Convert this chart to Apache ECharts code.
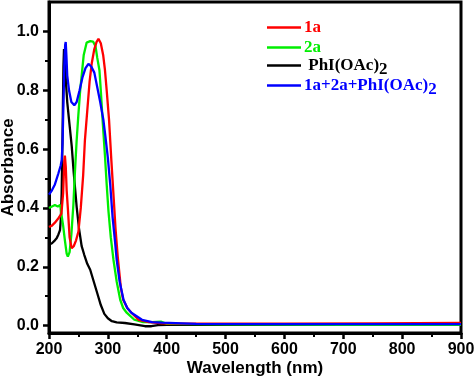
<!DOCTYPE html>
<html><head><meta charset="utf-8">
<script src="https://cdn.jsdelivr.net/npm/echarts@6/dist/echarts.min.js"></script>
<style>html,body{margin:0;padding:0;background:#fff}#c{width:474px;height:376px}</style>
</head><body><div id="c"></div>
<script>
// ---- data ----
var xTicks = [200, 300, 400, 500, 600, 700, 800, 900];
var yTicks = [0.0, 0.2, 0.4, 0.6, 0.8, 1.0];
var yMinorTicks = [0.1, 0.3, 0.5, 0.7, 0.9];
var seriesNames = ['1a', '2a', 'PhI(OAc)2', '1a+2a+PhI(OAc)2'];

var red_x = [200,205,210,216,221,224,226,227,228.5,230,232,235,238.5,242,246,250,254,258,261,265,269,272.5,277,281,284,288,292,295,298,302,306,310,313,317,322,326,333,340,352,370,392,450,600,750,900];
var red_y = [0.335,0.34,0.35,0.365,0.38,0.45,0.56,0.578,0.54,0.46,0.40,0.30,0.263,0.27,0.29,0.32,0.40,0.51,0.63,0.73,0.83,0.89,0.94,0.965,0.975,0.96,0.92,0.87,0.80,0.70,0.56,0.43,0.33,0.23,0.13,0.088,0.06,0.044,0.02,0.012,0.008,0.007,0.007,0.008,0.009];

var green_x = [200,205,210,215,219,221,224,227,230,232,235,238,241.4,244,247,250,253,256,259,264,270,275,279,282,285.7,288,291,295,298,301,305,309.5,315,321,326,332,345,360,375,390,400,500,700,900];
var green_y = [0.40,0.405,0.41,0.405,0.41,0.38,0.34,0.29,0.245,0.235,0.25,0.31,0.41,0.52,0.63,0.72,0.80,0.86,0.92,0.962,0.967,0.965,0.95,0.91,0.868,0.80,0.70,0.58,0.48,0.39,0.30,0.224,0.15,0.088,0.06,0.044,0.02,0.012,0.012,0.014,0.006,0.004,0.003,0.003];

var black_x = [200,205,210,213,216,218.7,220,221.5,223,224.5,225.5,227,229,231,234,238.6,242,247,251,255.5,260,265,270,276,282,288,294,300,306.8,315,329,345,363,374,385,400,600,900];
var black_y = [0.275,0.28,0.29,0.297,0.31,0.325,0.36,0.45,0.65,0.88,0.94,0.90,0.82,0.76,0.70,0.61,0.52,0.404,0.33,0.27,0.24,0.21,0.19,0.15,0.11,0.07,0.04,0.025,0.015,0.011,0.009,0.004,-0.002,-0.002,0.002,0.003,0.003,0.003];

var blue_x = [200,205,210,216,220,221.6,223,224.5,226,227.5,228.4,229.5,231,234,238,243,247,252,257,262,267,272,277,282,287,292.5,296,300,304,308,312,315,320,326.6,333,340,358,375,392,450,600,750,900];
var blue_y = [0.445,0.46,0.48,0.518,0.545,0.563,0.62,0.75,0.88,0.955,0.964,0.92,0.85,0.80,0.76,0.749,0.76,0.80,0.845,0.875,0.89,0.88,0.86,0.81,0.76,0.698,0.64,0.57,0.48,0.37,0.29,0.224,0.15,0.088,0.06,0.044,0.02,0.012,0.01,0.006,0.005,0.005,0.005];

function zip(xs, ys){ return xs.map(function(x,i){ return [x, ys[i]]; }); }

var colors = {'1a':'#ff0000','2a':'#00ee00','PhI(OAc)2':'#000000','1a+2a+PhI(OAc)2':'#0000ff'};

var chart = echarts.init(document.getElementById('c'), null, {renderer:'canvas'});

function lineSeries(name, xs, ys, z){
  return {type:'line', name:name, data:zip(xs,ys), showSymbol:false, symbol:'none',
    lineStyle:{color:colors[name], width:2.3}, itemStyle:{color:colors[name]}, z:z, animation:false};
}

var serifFont = '"Liberation Serif","Times New Roman",serif';
function mkRich(col){
  return {
    m:{fontFamily:serifFont, fontWeight:'bold', fontSize:17, color:col},
    s:{fontFamily:serifFont, fontWeight:'bold', fontSize:17, color:col, padding:[9,0,0,0]}
  };
}
function legendFor(name, top, label){
  return {
    data:[{name:name}], top:top, left:262, orient:'vertical',
    icon:'rect', itemWidth:34, itemHeight:2.5, itemGap:0,
    selectedMode:false,
    formatter:function(){ return label; },
    textStyle:{rich:mkRich(colors[name]), padding:[0,0,0,-2]}
  };
}

var option = {
  backgroundColor:'#fff',
  animation:false,
  grid:{left:49, right:13, top:2, bottom:43, show:true, borderColor:'#000', borderWidth:3, backgroundColor:'transparent', containLabel:false, outerBoundsMode:'none'},
  legend:[
    legendFor('1a', 14, '{m|1a}'),
    legendFor('2a', 34, '{m|2a}'),
    legendFor('PhI(OAc)2', 52, '{m| PhI(OAc)}{s|2}'),
    legendFor('1a+2a+PhI(OAc)2', 72, '{m|1a+2a+PhI(OAc)}{s|2}')
  ],
  xAxis:[{
    type:'value', min:200, max:900, interval:100,
    name:'Wavelength (nm)', nameLocation:'middle', nameGap:27, nameMoveOverlap:false,
    nameTextStyle:{fontFamily:'"Liberation Sans",Arial,sans-serif', fontWeight:'bold', fontSize:17, color:'#000'},
    axisLine:{show:true, onZero:false, lineStyle:{color:'#000', width:3}},
    axisTick:{show:true, inside:false, length:6, lineStyle:{color:'#000', width:2.5}},
    minorTick:{show:true, splitNumber:2, length:4, lineStyle:{color:'#000', width:2}},
    axisLabel:{fontFamily:'"Liberation Sans",Arial,sans-serif', fontWeight:'bold', fontSize:16, color:'#000', margin:9},
    splitLine:{show:false}, minorSplitLine:{show:false}
  }],
  yAxis:[{
    type:'value', min:-0.025, max:1.1,
    name:'Absorbance', nameLocation:'middle', nameGap:32, nameRotate:90, nameMoveOverlap:false,
    nameTextStyle:{fontFamily:'"Liberation Sans",Arial,sans-serif', fontWeight:'bold', fontSize:17, color:'#000'},
    axisLine:{show:true, onZero:false, lineStyle:{color:'#000', width:3}},
    axisTick:{show:true, inside:false, length:6, customValues:yTicks, lineStyle:{color:'#000', width:2.5}},
    axisLabel:{customValues:yTicks, formatter:function(v){return v.toFixed(1);}, fontFamily:'"Liberation Sans",Arial,sans-serif', fontWeight:'bold', fontSize:16, color:'#000', margin:10},
    splitLine:{show:false}
  },{
    type:'value', min:-0.025, max:1.1, position:'left',
    axisLine:{show:false},
    axisTick:{show:true, inside:false, length:4, customValues:yMinorTicks, lineStyle:{color:'#000', width:2}},
    axisLabel:{show:false}, splitLine:{show:false}
  }],
  series:[
    lineSeries('PhI(OAc)2', black_x, black_y, 2),
    lineSeries('2a', green_x, green_y, 3),
    lineSeries('1a', red_x, red_y, 4),
    lineSeries('1a+2a+PhI(OAc)2', blue_x, blue_y, 5)
  ]
};
chart.setOption(option);
</script>
</body></html>
